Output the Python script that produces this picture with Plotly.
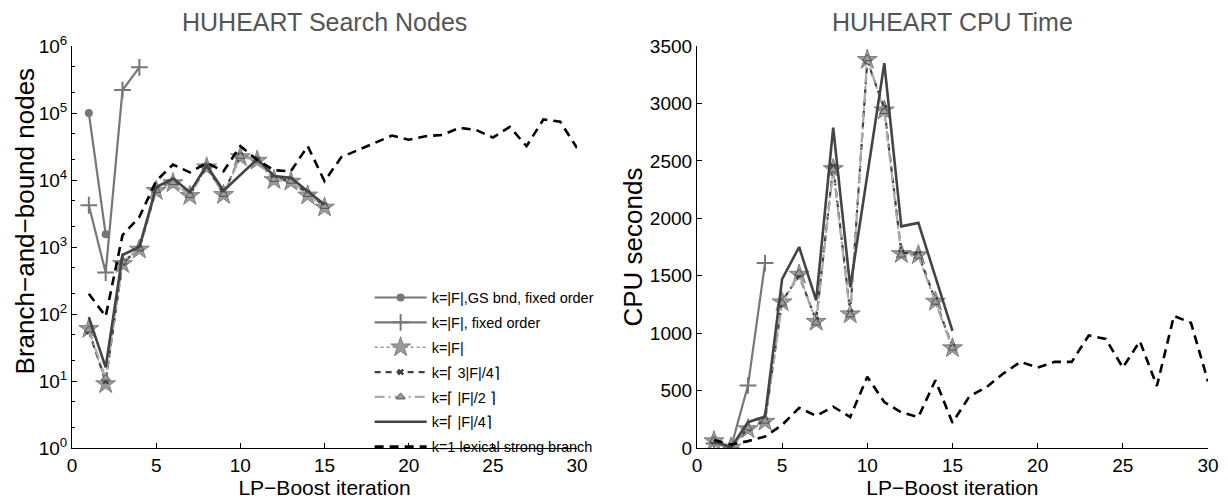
import plotly.graph_objects as go

# LP-Boost iterations
iters_short = list(range(1, 16))
iters_long = list(range(1, 31))
iters_gs = [1, 2]
iters_fixed = [1, 2, 3, 4]

# Branch-and-bound nodes per iteration
nodes_gs = [100000, 1550]
nodes_fixed = [4200, 415, 220000, 480000]
nodes_full = [60, 9, 560, 920, 6900, 9000, 5800, 15500, 6000, 22000, 19500, 10000, 9500, 5900, 3900]
nodes_3q = [55, 10, 580, 950, 7200, 9500, 6000, 16000, 6200, 23000, 20000, 10500, 9800, 6300, 4100]
nodes_half = [58, 11, 600, 960, 7000, 9200, 5900, 16000, 6100, 22500, 19800, 10200, 9600, 6100, 4050]
nodes_quarter = [90, 16, 760, 1000, 7800, 10500, 6600, 16500, 6900, 11900, 20500, 11500, 10800, 6800, 4300]
nodes_lex = [200, 92, 1500, 2800, 9700, 17000, 13000, 18000, 13500, 32000, 20000, 14000, 13500, 32000,
             9600, 22000, 28000, 36000, 46000, 40000, 45000, 47000, 60000, 56000, 43000, 62000, 32000,
             80000, 74000, 30000]

# CPU seconds per iteration
cpu_gs = [75, 5]
cpu_fixed = [40, 5, 545, 1610]
cpu_full = [60, 5, 165, 230, 1270, 1510, 1100, 2430, 1165, 3380, 2940, 1690, 1680, 1275, 870]
cpu_3q = [55, 5, 170, 240, 1280, 1500, 1110, 2450, 1180, 3370, 2960, 1700, 1690, 1290, 880]
cpu_half = [65, 6, 175, 235, 1260, 1520, 1090, 2420, 1160, 3390, 2930, 1680, 1670, 1270, 870]
cpu_quarter = [60, 5, 225, 275, 1470, 1750, 1285, 2790, 1400, 2380, 3350, 1930, 1960, 1490, 1020]
cpu_lex = [70, 30, 60, 100, 200, 350, 280, 360, 270, 620, 400, 310, 270, 590, 220, 450, 530, 650,
           750, 700, 750, 750, 980, 950, 700, 930, 540, 1150, 1090, 580]

names = [
    "k=|F|,GS bnd, fixed order",
    "k=|F|, fixed order",
    "k=|F|",
    "k=⌈ 3|F|/4⌉",
    "k=⌈ |F|/2 ⌉",
    "k=⌈ |F|/4⌉",
    "k=1 lexical strong branch",
]

styles = [
    dict(line=dict(color="#777777", width=2.2), marker=dict(symbol="circle", size=8, color="#777777"), mode="lines+markers"),
    dict(line=dict(color="#777777", width=2.2), marker=dict(symbol="cross-thin-open", size=12, line=dict(color="#777777", width=2)), mode="lines+markers"),
    dict(line=dict(color="#999999", width=1.5, dash="dot"), marker=dict(symbol="star", size=15, color="#9a9a9a", line=dict(color="#808080", width=1)), mode="lines+markers"),
    dict(line=dict(color="#404040", width=2.2, dash="6px,5px"), marker=dict(symbol="x", size=6, color="#404040", line=dict(width=0)), mode="lines+markers"),
    dict(line=dict(color="#aaaaaa", width=2.2, dash="10px,4px,2px,4px"), marker=dict(symbol="triangle-up", size=8, color="#9c9c9c", line=dict(color="#555555", width=1)), mode="lines+markers"),
    dict(line=dict(color="#444444", width=2.6), mode="lines"),
    dict(line=dict(color="#000000", width=2.6, dash="9px,6px"), mode="lines"),
]

left_x = [iters_gs, iters_fixed, iters_short, iters_short, iters_short, iters_short, iters_long]
left_y = [nodes_gs, nodes_fixed, nodes_full, nodes_3q, nodes_half, nodes_quarter, nodes_lex]
right_y = [cpu_gs, cpu_fixed, cpu_full, cpu_3q, cpu_half, cpu_quarter, cpu_lex]

fig = go.Figure()
for i, name in enumerate(names):
    fig.add_trace(go.Scatter(x=left_x[i], y=left_y[i], name=name, legendgroup=f"g{i}",
                             showlegend=True, xaxis="x", yaxis="y", **styles[i]))
for i, name in enumerate(names):
    fig.add_trace(go.Scatter(x=left_x[i], y=right_y[i], name=name, legendgroup=f"g{i}",
                             showlegend=False, xaxis="x2", yaxis="y2", **styles[i]))

font_family = "Liberation Sans"
tick_font = dict(family=font_family, size=19, color="#000000")
xtitle_font = dict(family=font_family, size=21, color="#000000")
ytitle_font = dict(family=font_family, size=26, color="#000000")
head_font = dict(family=font_family, size=25, color="#555555")

axis_common = dict(showline=True, linecolor="#000000", linewidth=1, ticks="inside", ticklen=5,
                   tickcolor="#000000", showgrid=False, zeroline=False, mirror=False,
                   tickfont=tick_font)

fig.update_layout(
    width=1228, height=499,
    margin=dict(l=72, r=9, t=46, b=45),
    paper_bgcolor="white", plot_bgcolor="white",
    showlegend=True,
    xaxis=dict(domain=[0, 0.4446], range=[0, 30], tickvals=[0, 5, 10, 15, 20, 25, 30],
               title=dict(text="LP−Boost iteration", font=xtitle_font, standoff=0), **axis_common),
    yaxis=dict(type="log", range=[0, 6], tickvals=[1, 10, 100, 1000, 10000, 100000, 1000000],
               ticktext=["10<sup>%d</sup>" % k for k in range(7)],
               minor=dict(ticks="inside", ticklen=3, tickcolor="#000000", showgrid=False),
               **axis_common),
    xaxis2=dict(domain=[0.5501, 1.0], range=[0, 30], tickvals=[0, 5, 10, 15, 20, 25, 30], anchor="y2",
                title=dict(text="LP−Boost iteration", font=xtitle_font, standoff=0), **axis_common),
    yaxis2=dict(range=[0, 3500], tickvals=list(range(0, 3501, 500)), anchor="x2", **axis_common),
    legend=dict(x=0.262, y=0.414, xanchor="left", yanchor="top", bgcolor="rgba(255,255,255,0)",
                borderwidth=0, font=dict(family=font_family, size=14.5, color="#000000"),
                traceorder="grouped", tracegroupgap=3, itemwidth=52),
    annotations=[
        dict(text="HUHEART Search Nodes", x=0.2223, y=1.0, xref="paper", yref="paper",
             xanchor="center", yanchor="middle", yshift=24, showarrow=False, font=head_font),
        dict(text="HUHEART CPU Time", x=0.775, y=1.0, xref="paper", yref="paper",
             xanchor="center", yanchor="middle", yshift=24, showarrow=False, font=head_font),
        dict(text="Branch−and−bound nodes", x=-0.0418, y=0.565, xref="paper", yref="paper",
             xanchor="center", yanchor="middle", textangle=-90, showarrow=False, font=ytitle_font),
        dict(text="CPU seconds", x=0.4934, y=0.5, xref="paper", yref="paper",
             xanchor="center", yanchor="middle", textangle=-90, showarrow=False, font=ytitle_font),
    ],
)

fig.write_html("out.html")
